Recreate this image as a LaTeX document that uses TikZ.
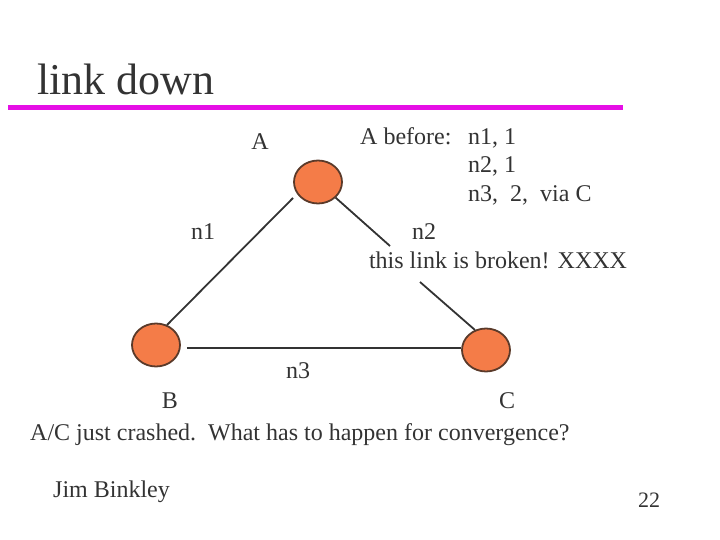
\documentclass[tikz,border=0pt]{standalone}
\usepackage{fontspec}
\setmainfont{Liberation Serif}
\usepackage{xcolor}
\usetikzlibrary{shapes.geometric,positioning,calc}
\definecolor{slidetext}{HTML}{333333}
\definecolor{routerfill}{HTML}{F47C48}
\definecolor{routeredge}{HTML}{5A3A2A}
\definecolor{rulemagenta}{HTML}{E60FE6}

\begin{document}
\begin{tikzpicture}[x=1pt, y=-1pt,
  every node/.style={text=slidetext, inner sep=0pt,
                     font=\fontsize{24}{28.8}\selectfont},
  lbl/.style={anchor=base},
  row/.style={anchor=base west},
  router/.style={ellipse, draw=routeredge, line width=1.8pt,
                 fill=routerfill, minimum width=48pt, minimum height=43pt},
  link/.style={draw=slidetext, line width=1.8pt}
]
\useasboundingbox (0,0) rectangle (720,540);

% title
\node[row, font=\fontsize{44}{52}\selectfont] (title) at (37,95) {link down};
\draw[rulemagenta, line width=5pt] (8,107.5) -- (623,107.5);

% routers
\node[router] (nodeA) at (318,182) {};
\node[router] (nodeB) at (156,345) {};
\node[router] (nodeC) at (486,350) {};

\node[lbl] (labA) at (260,150) {A};
\node[lbl] (labB) at (170,408) {B};
\node[lbl] (labC) at (507,408) {C};

% links, A--C is cut
\coordinate (brkA) at ($(nodeA)+(72,64)$);
\coordinate (brkC) at ($(nodeC)+(-66,-68)$);
\draw[link] ($(nodeA)+(-25,16)$) -- ($(nodeB)+(11,-20)$);
\draw[link] ([xshift=6pt,yshift=-3pt]nodeB.east)
  -- ([yshift=2pt]nodeC.west);
\draw[link] (nodeA) -- (brkA);
\draw[link] (brkC) -- ($(nodeC)+(-11,-20)$);

\node[lbl] (lblN1) at (203,240) {n1};
\node[lbl] (lblN2) at (424,240) {n2};
\node[lbl] (broken) at (498,268) {this link is broken! XXXX};
\node[lbl] (lblN3) at (298,378) {n3};

% routing table of A
\node[row] (before) at (360,145) {A before:};
\node[row] (rowA) at (468,145) {n1, 1};
\node[row] (rowB) at (468,173) {n2, 1};
\node[row] (rowC) at (468,202) {n3,\ \ 2,\ \ via C};

\node[row] (question) at (30,440)
  {A/C just crashed.\ \ What has to happen for convergence?};

% footer
\node[row] (author) at (53,497) {Jim Binkley};
\node[row, font=\fontsize{22}{26}\selectfont] (pagenum) at (638,507) {22};
\end{tikzpicture}
\end{document}
